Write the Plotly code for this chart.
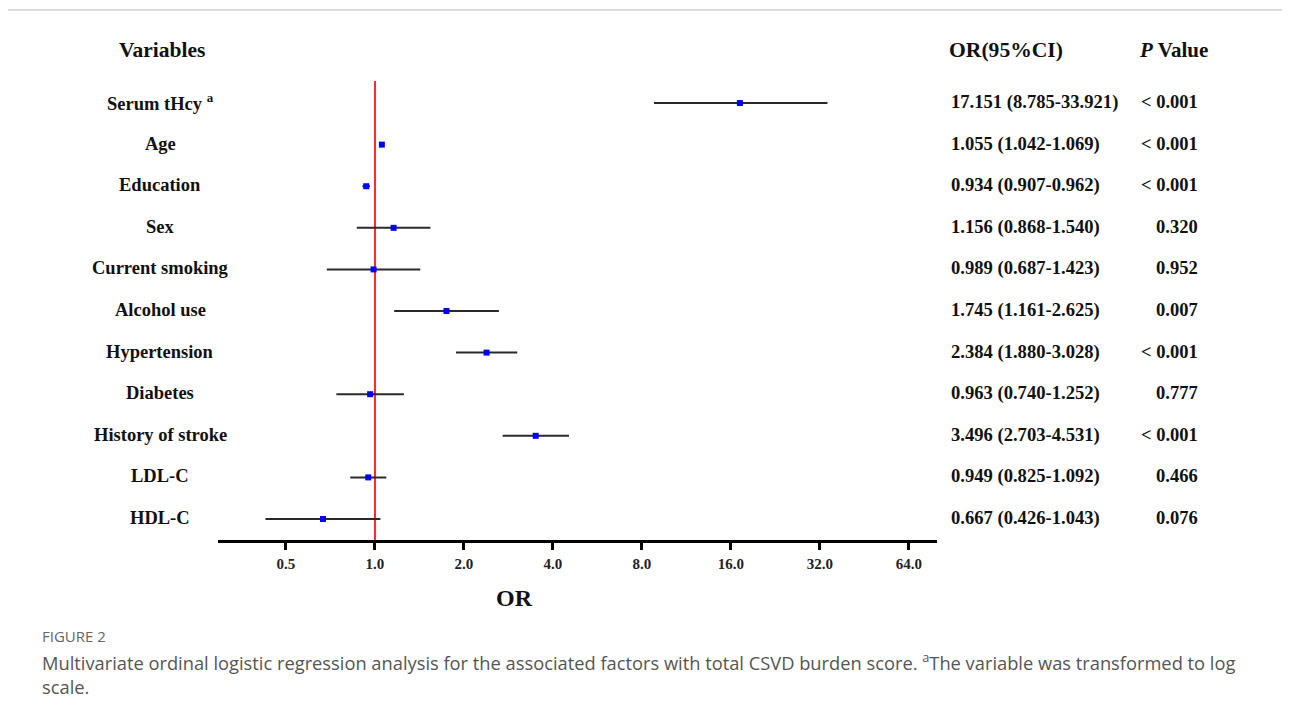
import math
import plotly.graph_objects as go

# ---- data ----
variables = ["Serum tHcy <sup>a</sup>", "Age", "Education", "Sex", "Current smoking",
             "Alcohol use", "Hypertension", "Diabetes", "History of stroke", "LDL-C", "HDL-C"]
or_values = [17.151, 1.055, 0.934, 1.156, 0.989, 1.745, 2.384, 0.963, 3.496, 0.949, 0.667]
ci_low = [8.785, 1.042, 0.907, 0.868, 0.687, 1.161, 1.880, 0.740, 2.703, 0.825, 0.426]
ci_high = [33.921, 1.069, 0.962, 1.540, 1.423, 2.625, 3.028, 1.252, 4.531, 1.092, 1.043]
p_values = ["< 0.001", "< 0.001", "< 0.001", "0.320", "0.952", "0.007",
            "< 0.001", "0.777", "< 0.001", "0.466", "0.076"]
tick_vals = [0.5, 1, 2, 4, 8, 16, 32, 64]
tick_text = ["0.5", "1.0", "2.0", "4.0", "8.0", "16.0", "32.0", "64.0"]

# page has an 8px body margin -> figure drawn 8px right/down
OFF = 8
W, H = 1290 - OFF, 714 - OFF


def px(x):
    return (x - OFF) / W


def py(y):
    return 1 - (y - OFF) / H


SERIF = "Liberation Serif, Times New Roman, serif"
rows = list(range(len(variables)))

fig = go.Figure()
fig.add_trace(go.Scatter(
    x=or_values, y=rows, mode="markers",
    marker=dict(symbol="square", size=6, color="#0000ff"),
    error_x=dict(type="data", symmetric=False,
                 array=[h - o for h, o in zip(ci_high, or_values)],
                 arrayminus=[o - l for o, l in zip(or_values, ci_low)],
                 color="#2a2a2a", thickness=2, width=0),
    showlegend=False, cliponaxis=False))

# axis range in log10 units
x_lo = math.log10(2 ** -1.764)
x_hi = math.log10(2 ** 6.315)

fig.update_layout(
    width=W, height=H, margin=dict(l=0, r=0, t=0, b=0),
    paper_bgcolor="white", plot_bgcolor="white",
    xaxis=dict(type="log", range=[x_lo, x_hi], domain=[px(218), px(937)],
               tickvals=tick_vals, ticktext=tick_text, showgrid=False, zeroline=False,
               showline=True, linecolor="black", linewidth=3,
               ticks="outside", ticklen=7, tickwidth=3, tickcolor="black",
               ticklabelstandoff=1,
               tickfont=dict(family=SERIF, size=15, color="#222", weight="bold")),
    yaxis=dict(range=[10.505, -0.53], domain=[py(540), py(81)],
               showgrid=False, zeroline=False, showline=False, showticklabels=False,
               ticks=""),
)

# reference line at OR = 1
fig.add_shape(type="line", xref="x", yref="y domain", x0=1, x1=1, y0=0, y1=1,
              line=dict(color="#ff2a2a", width=2), layer="below")

# page border line (top)
fig.add_shape(type="line", xref="paper", yref="paper", x0=0, x1=1, y0=py(10), y1=py(10),
              line=dict(color="#bbbbbb", width=1))

ann = []
# headers
ann.append(dict(text="<b>Variables</b>", x=px(162), y=py(50), xref="paper", yref="paper",
                xanchor="center", yanchor="middle", showarrow=False,
                font=dict(family=SERIF, size=21.5, color="#111")))
ann.append(dict(text="<b>OR(95%CI)</b>", x=px(947), y=py(50), xref="paper", yref="paper",
                xanchor="left", yanchor="middle", showarrow=False,
                font=dict(family=SERIF, size=21.6, color="#111")))
ann.append(dict(text="<b><i>P</i> Value</b>", x=px(1210), y=py(50), xref="paper", yref="paper",
                xanchor="right", yanchor="middle", showarrow=False,
                font=dict(family=SERIF, size=21, color="#111")))

for i, v in enumerate(variables):
    ann.append(dict(text=f"<b>{v}</b>", x=px(160), y=i, xref="paper", yref="y",
                    xanchor="center", yanchor="middle", showarrow=False, yshift=1,
                    font=dict(family=SERIF, size=18.5, color="#111")))
    ann.append(dict(text=f"<b>{or_values[i]:.3f} ({ci_low[i]:.3f}-{ci_high[i]:.3f})</b>",
                    x=px(949), y=i, xref="paper", yref="y",
                    xanchor="left", yanchor="middle", showarrow=False, yshift=1,
                    font=dict(family=SERIF, size=18.6, color="#111")))
    ann.append(dict(text=f"<b>{p_values[i]}</b>", x=px(1200), y=i, xref="paper", yref="y",
                    xanchor="right", yanchor="middle", showarrow=False, yshift=1,
                    font=dict(family=SERIF, size=18.5, color="#111")))

# axis title
ann.append(dict(text="<b>OR</b>", x=px(514), y=py(598), xref="paper", yref="paper",
                xanchor="center", yanchor="middle", showarrow=False,
                font=dict(family=SERIF, size=24, color="#111")))

# caption
CAP = "Open Sans, Noto Sans, sans-serif"
ann.append(dict(text="FIGURE 2", x=px(40), y=py(636), xref="paper", yref="paper",
                xanchor="left", yanchor="middle", showarrow=False,
                font=dict(family=CAP, size=15, color="#666")))
ann.append(dict(text="Multivariate ordinal logistic regression analysis for the associated factors with total CSVD burden score. "
                     "<sup>a</sup>The variable was transformed to log",
                x=px(40), y=py(661), xref="paper", yref="paper",
                xanchor="left", yanchor="middle", showarrow=False,
                font=dict(family=CAP, size=18.3, color="#555")))
ann.append(dict(text="scale.", x=px(40), y=py(686), xref="paper", yref="paper",
                xanchor="left", yanchor="middle", showarrow=False,
                font=dict(family=CAP, size=18.3, color="#555")))

fig.update_layout(annotations=ann)
fig.write_html("out.html")
